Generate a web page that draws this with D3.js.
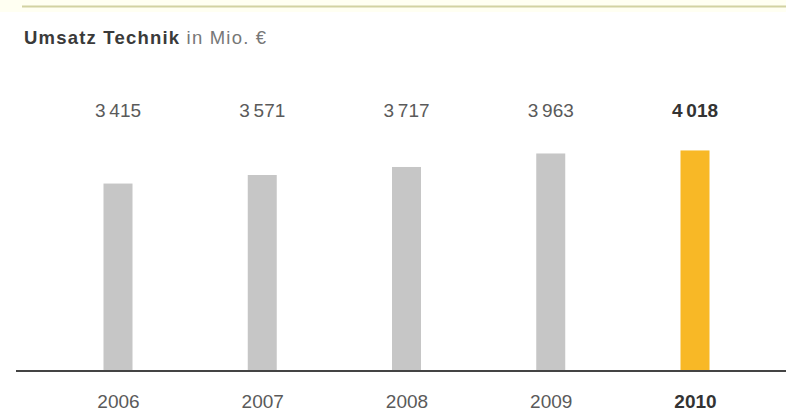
<!DOCTYPE html>
<html>
<head>
<meta charset="utf-8">
<script src="https://cdn.jsdelivr.net/npm/d3@7"></script>
<style>
  html, body { margin: 0; padding: 0; background: #fff; }
  svg { display: block; font-family: "Liberation Sans", Arial, Helvetica, sans-serif; }
</style>
</head>
<body>
<svg id="chart" width="786" height="414"></svg>
<script>
// Umsatz Technik, in Mio. €
const years = ["2006", "2007", "2008", "2009", "2010"];
const revenue = [3415, 3571, 3717, 3963, 4018];
const highlightYear = "2010";

const W = 786, H = 414;
const svg = d3.select("#chart");

// German number formatting with a thin space as thousands separator
const fmt = d3.formatLocale({ decimal: ",", thousands: "\u2009", grouping: [3], currency: ["", " €"] }).format(",d");

const baseY = 371;
const x = d3.scalePoint().domain(years).range([118, 695]);
const y = d3.scaleLinear().domain([0, 4500]).range([baseY, 124]);
const barW = 29;

// header rule
svg.append("rect").attr("x", 0).attr("y", 0).attr("width", W).attr("height", 12).attr("fill", "#fffff2");
svg.append("line").attr("x1", 22).attr("x2", W).attr("y1", 6.5).attr("y2", 6.5)
  .attr("stroke", "#d2d2a2").attr("stroke-width", 2);

// title
const title = svg.append("text").attr("x", 24).attr("y", 44).attr("font-size", 18.5).attr("letter-spacing", 1.2);
title.append("tspan").attr("font-weight", "bold").attr("fill", "#3a3a3a").text("Umsatz Technik");
title.append("tspan").attr("fill", "#777").text(" in Mio. €");

const data = years.map((yr, i) => ({ year: yr, value: revenue[i] }));

// bars
svg.append("g").selectAll("rect").data(data).join("rect")
  .attr("x", d => x(d.year) - barW / 2)
  .attr("y", d => y(d.value))
  .attr("width", barW)
  .attr("height", d => y(0) - y(d.value))
  .attr("fill", d => d.year === highlightYear ? "#f8b826" : "#c6c6c6");

// value labels
svg.append("g").selectAll("text").data(data).join("text")
  .attr("x", d => x(d.year))
  .attr("y", 117)
  .attr("text-anchor", "middle")
  .attr("font-size", 19)
  .attr("font-weight", d => d.year === highlightYear ? "bold" : "normal")
  .attr("fill", d => d.year === highlightYear ? "#333" : "#5a5a5a")
  .text(d => fmt(d.value));

// baseline axis with year labels
const axis = svg.append("g").attr("transform", `translate(0,${baseY})`)
  .call(d3.axisBottom(x).tickSize(0).tickPadding(0));
axis.select(".domain").remove();
axis.append("line").attr("x1", 16).attr("x2", W).attr("y1", 0).attr("y2", 0)
  .attr("stroke", "#444").attr("stroke-width", 2);
axis.selectAll(".tick text")
  .attr("dy", null)
  .attr("y", 37)
  .attr("font-family", "Liberation Sans, Arial, sans-serif")
  .attr("font-size", 19)
  .attr("font-weight", d => d === highlightYear ? "bold" : "normal")
  .attr("fill", d => d === highlightYear ? "#333" : "#5a5a5a");
</script>
</body>
</html>
